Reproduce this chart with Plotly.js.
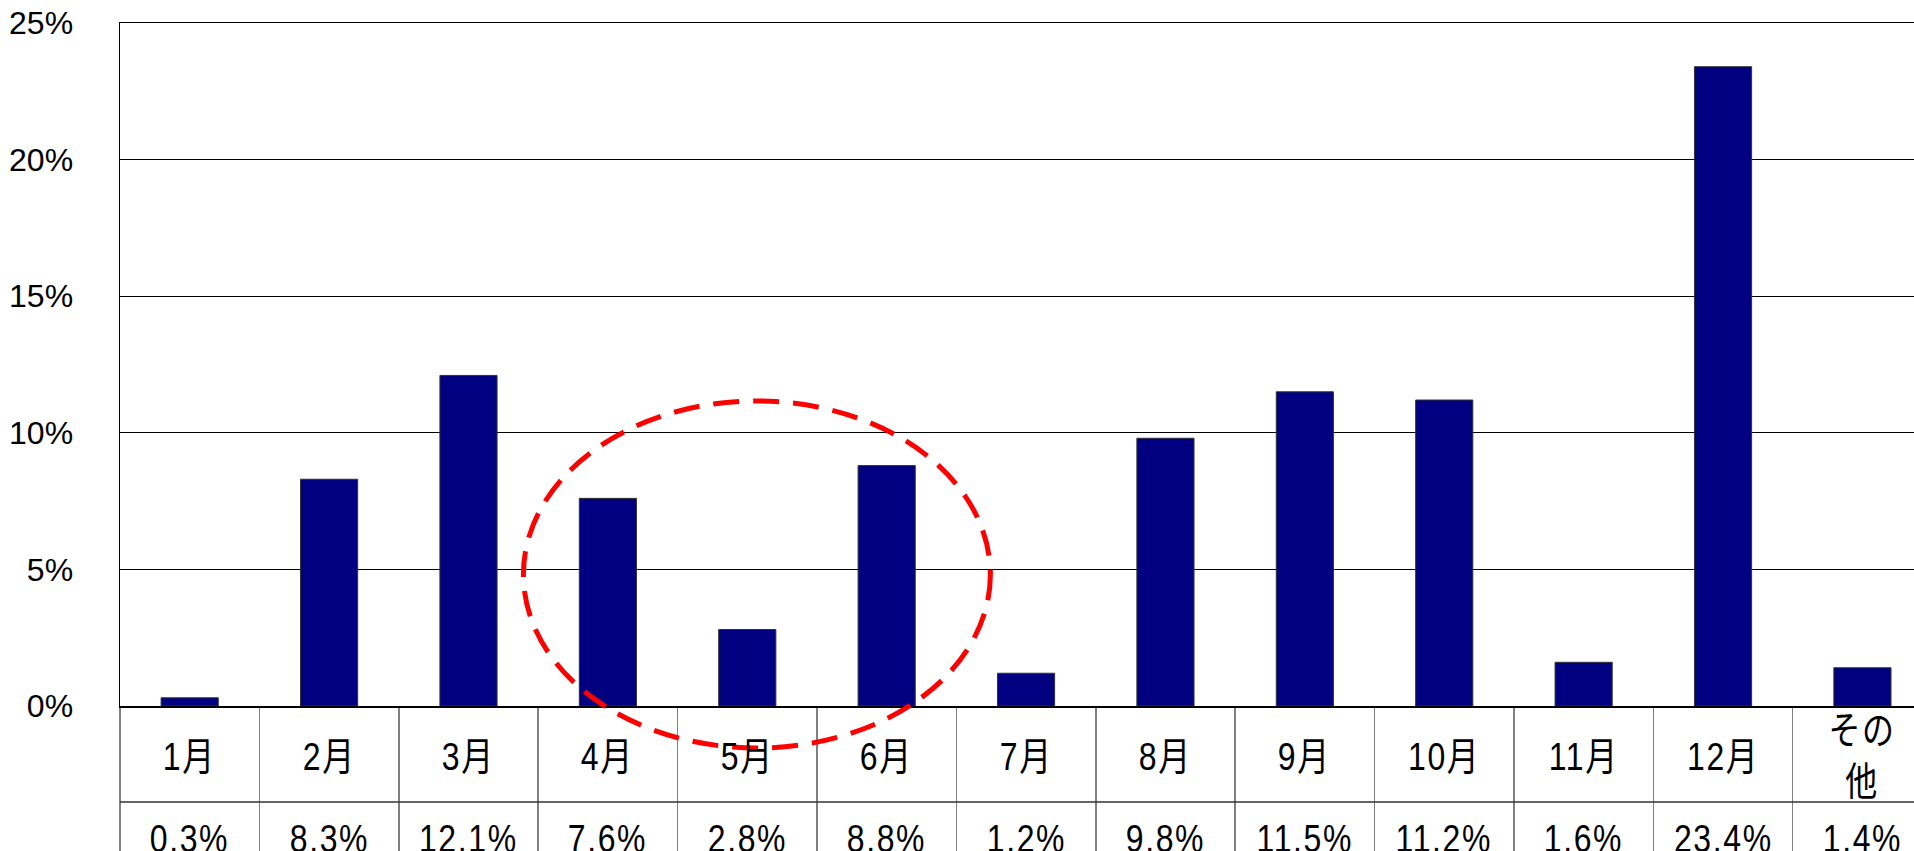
<!DOCTYPE html>
<html>
<head>
<meta charset="utf-8">
<script src="https://cdn.plot.ly/plotly-3.0.1.min.js"></script>
<style>
html, body { margin: 0; padding: 0; background: #fff; }
#chart { width: 1914px; height: 851px; }
#chart .annotation-text {
  letter-spacing: 2px;
  transform-box: fill-box;
  transform-origin: center;
  transform: scaleX(0.82);
}
</style>
</head>
<body>
<div id="chart"></div>
<script>
// Data
const categories = ['1月', '2月', '3月', '4月', '5月', '6月', '7月', '8月', '9月', '10月', '11月', '12月', 'その他'];
const cellLabels = ['1月', '2月', '3月', '4月', '5月', '6月', '7月', '8月', '9月', '10月', '11月', '12月', 'その<br>他'];
const shares = [0.3, 8.3, 12.1, 7.6, 2.8, 8.8, 1.2, 9.8, 11.5, 11.2, 1.6, 23.4, 1.4];
const yTicks = [0, 5, 10, 15, 20, 25];

const FONT = 'Liberation Sans, Arial, Noto Sans CJK JP, sans-serif';
const MARGIN_T = 23, MARGIN_B = 145, H = 851;
const plotH = H - MARGIN_T - MARGIN_B;
const pxToPaperY = py => (H - MARGIN_B - py) / plotH;

const trace = {
  type: 'bar',
  x: categories,
  y: shares,
  width: 0.41,
  marker: { color: '#000080', line: { color: '#333333', width: 1 } },
  hoverinfo: 'x+y'
};

const annotations = [];
categories.forEach((c, i) => {
  annotations.push({
    xref: 'x', yref: 'paper', x: c, y: pxToPaperY(756),
    text: cellLabels[i], showarrow: false,
    xanchor: 'center', yanchor: 'middle',
    font: { family: FONT, size: 39, color: '#000' }
  });
  annotations.push({
    xref: 'x', yref: 'paper', x: c, y: pxToPaperY(838),
    text: shares[i].toFixed(1) + '%', showarrow: false,
    xanchor: 'center', yanchor: 'middle',
    font: { family: FONT, size: 39, color: '#000' }
  });
});

const layout = {
  width: 1914, height: 851,
  margin: { l: 120, r: 0, t: MARGIN_T, b: MARGIN_B, pad: 0 },
  paper_bgcolor: '#fff', plot_bgcolor: '#fff',
  showlegend: false,
  bargap: 0.59,
  xaxis: {
    type: 'category',
    range: [-0.5, 12.37],
    showticklabels: false,
    ticks: 'outside', tickson: 'boundaries', ticklen: 160,
    tickcolor: '#808080', tickwidth: 1.5,
    showgrid: false, zeroline: false,
    showline: true, mirror: true, linecolor: '#000', linewidth: 1.5,
    fixedrange: true
  },
  yaxis: {
    range: [0, 25],
    tickvals: yTicks,
    ticktext: yTicks.map(v => v + '%'),
    ticks: 'outside', ticklen: 39, tickcolor: 'rgba(0,0,0,0)',
    tickfont: { family: FONT, size: 32, color: '#000' },
    showgrid: true, gridcolor: '#000', gridwidth: 1,
    zeroline: false,
    showline: true, linecolor: '#000', linewidth: 1.5,
    fixedrange: true
  },
  shapes: [
    {
      type: 'line', xref: 'paper', yref: 'paper',
      x0: 0, x1: 1, y0: pxToPaperY(802), y1: pxToPaperY(802),
      line: { color: '#333333', width: 1.5 }
    },
    {
      type: 'circle', xref: 'x', yref: 'paper',
      x0: 2.394, x1: 5.744,
      y0: pxToPaperY(748), y1: pxToPaperY(401),
      line: { color: '#ff0000', width: 5, dash: '26px,14px' },
      fillcolor: 'rgba(0,0,0,0)'
    }
  ],
  annotations: annotations
};

Plotly.newPlot('chart', [trace], layout, { staticPlot: true, displayModeBar: false });
</script>
</body>
</html>
